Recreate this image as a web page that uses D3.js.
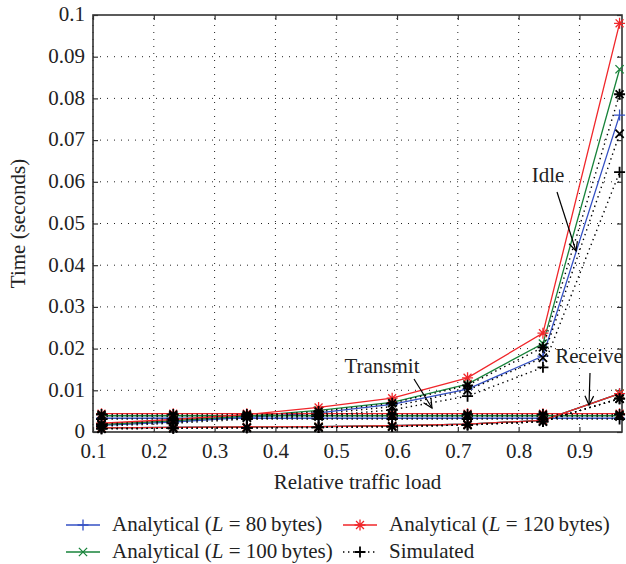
<!DOCTYPE html>
<html>
<head>
<meta charset="utf-8">
<script src="https://cdn.jsdelivr.net/npm/d3@7"></script>
<style>
  body { margin: 0; background: #fff; }
  text { font-family: "Liberation Serif", "DejaVu Serif", serif; fill: #222; }
</style>
</head>
<body>
<div id="chart"></div>
<script>
const w = 626;
const h = 564;

// traffic load points
const loads = [0.114, 0.232, 0.353, 0.471, 0.592, 0.716, 0.840, 0.966];

// analytical idle time per packet length
const idle80 = [0.0016, 0.0024, 0.0035, 0.0046, 0.0066, 0.0103, 0.0182, 0.076];
const idle100 = [0.0018, 0.0027, 0.0038, 0.0052, 0.0071, 0.0115, 0.0212, 0.087];
const idle120 = [0.0021, 0.0030, 0.0042, 0.0059, 0.0081, 0.0130, 0.0237, 0.098];

// simulated idle
const simIdle80 = [0.0014, 0.0021, 0.0031, 0.0038, 0.0053, 0.0086, 0.0155, 0.0623];
const simIdle100 = [0.0016, 0.0024, 0.0034, 0.0043, 0.0061, 0.0100, 0.0178, 0.0715];
const simIdle120 = [0.0019, 0.0027, 0.0038, 0.0049, 0.0069, 0.0112, 0.0203, 0.0810];

// transmit (flat)
const tx80 = [0.0033, 0.0033, 0.0033, 0.0033, 0.0033, 0.0033, 0.0033, 0.0033];
const tx100 = [0.0039, 0.0039, 0.0039, 0.0039, 0.0039, 0.0039, 0.0039, 0.0039];
const tx120 = [0.0044, 0.0044, 0.0044, 0.0044, 0.0044, 0.0044, 0.0044, 0.0044];
const simTx80 = [0.0031, 0.0031, 0.0031, 0.0031, 0.0031, 0.0031, 0.0031, 0.0031];
const simTx100 = [0.0037, 0.0037, 0.0037, 0.0037, 0.0037, 0.0037, 0.0037, 0.0037];
const simTx120 = [0.0042, 0.0042, 0.0042, 0.0042, 0.0042, 0.0042, 0.0042, 0.0042];

// receive
const rx = [0.0010, 0.0011, 0.0012, 0.0013, 0.0015, 0.0019, 0.0028, 0.0092];
const simRx = [0.0008, 0.0009, 0.0010, 0.0011, 0.0013, 0.0017, 0.0025, 0.0080];

const xTicks = [0.1, 0.2, 0.3, 0.4, 0.5, 0.6, 0.7, 0.8, 0.9];
const yTicks = [0, 0.01, 0.02, 0.03, 0.04, 0.05, 0.06, 0.07, 0.08, 0.09, 0.1];

const colors = { 80: "#3450c4", 100: "#17833a", 120: "#f0262a" };
const markers = { 80: "plus", 100: "cross", 120: "star" };

const fs = "21px";
const margin = { left: 93, right: 4, top: 15, bottom: 132 };

const svg = d3.select("#chart").append("svg")
  .attr("width", w).attr("height", h);

const x = d3.scaleLinear().domain([0.1, 0.97]).range([margin.left, w - margin.right]);
const y = d3.scaleLinear().domain([0, 0.1]).range([h - margin.bottom, margin.top]);

const x0 = x.range()[0], x1 = x.range()[1];
const y0 = y.range()[0], y1 = y.range()[1];

// grid
const grid = svg.append("g");
grid.selectAll("line.gx").data(xTicks).enter().append("line")
  .attr("x1", (d) => x(d)).attr("x2", (d) => x(d))
  .attr("y1", y0).attr("y2", y1)
  .attr("stroke", "#222").attr("stroke-width", 1).attr("stroke-dasharray", "1,6");
grid.selectAll("line.gy").data(yTicks.slice(1, -1)).enter().append("line")
  .attr("x1", x0).attr("x2", x1)
  .attr("y1", (d) => y(d)).attr("y2", (d) => y(d))
  .attr("stroke", "#222").attr("stroke-width", 1).attr("stroke-dasharray", "1,6");

// axes with inward ticks
const axisStyle = (g) => {
  g.select(".domain").remove();
  g.selectAll(".tick line").attr("stroke", "#333").attr("stroke-width", 1.2);
  g.selectAll(".tick text").style("font-size", fs).attr("fill", "#222");
};

svg.append("g").attr("transform", `translate(0,${y0})`)
  .call(d3.axisBottom(x).tickValues(xTicks).tickFormat(d3.format("")).tickSizeInner(-5).tickPadding(11))
  .call(axisStyle);
svg.append("g").attr("transform", `translate(0,${y1})`)
  .call(d3.axisTop(x).tickValues(xTicks).tickFormat("").tickSizeInner(-5))
  .call(axisStyle);
svg.append("g").attr("transform", `translate(${x0},0)`)
  .call(d3.axisLeft(y).tickValues(yTicks).tickFormat(d3.format("")).tickSizeInner(-5).tickPadding(8))
  .call(axisStyle)
  .call((g) => g.selectAll(".tick text").attr("dy", "0.28em"));
svg.append("g").attr("transform", `translate(${x1},0)`)
  .call(d3.axisRight(y).tickValues(yTicks).tickFormat("").tickSizeInner(-5))
  .call(axisStyle);

svg.append("rect")
  .attr("x", x0).attr("y", y1).attr("width", x1 - x0).attr("height", y0 - y1)
  .attr("fill", "none").attr("stroke", "#333").attr("stroke-width", 1.6);

const symbolPath = (kind, s) => {
  if (kind === "plus") return `M${-s},0H${s}M0,${-s}V${s}`;
  if (kind === "cross") { const a = s * 0.75; return `M${-a},${-a}L${a},${a}M${-a},${a}L${a},${-a}`; }
  const a = s * 0.72;
  return `M${-s},0H${s}M0,${-s}V${s}M${-a},${-a}L${a},${a}M${-a},${a}L${a},${-a}`;
};

const line = d3.line().x((d) => x(d[0])).y((d) => y(d[1]));
const plotArea = svg.append("g");

const drawSeries = (vals, color, kind, dotted, mSize) => {
  const pts = loads.map((l, i) => [l, vals[i]]);
  plotArea.append("path").datum(pts)
    .attr("d", line).attr("fill", "none")
    .attr("stroke", color)
    .attr("stroke-width", dotted ? 1.4 : 1.3)
    .attr("stroke-dasharray", dotted ? "1.4,3.6" : null);
  plotArea.append("g").selectAll("path").data(pts).enter().append("path")
    .attr("transform", (d) => `translate(${x(d[0])},${y(d[1])})`)
    .attr("d", symbolPath(kind, mSize))
    .attr("stroke", color).attr("stroke-width", dotted ? 1.8 : 1.3).attr("fill", "none");
};

const analytical = [
  [80, idle80, tx80], [100, idle100, tx100], [120, idle120, tx120]
];
analytical.forEach(([L, idle, tx]) => {
  drawSeries(tx, colors[L], markers[L], false, 5.5);
  drawSeries(rx, colors[L], markers[L], false, 5.5);
  drawSeries(idle, colors[L], markers[L], false, 5.5);
});

const simulated = [
  [80, simIdle80, simTx80], [100, simIdle100, simTx100], [120, simIdle120, simTx120]
];
simulated.forEach(([L, idle, tx]) => {
  drawSeries(tx, "#000", markers[L], true, 5.5);
  drawSeries(simRx, "#000", markers[L], true, 5.5);
  drawSeries(idle, "#000", markers[L], true, 5.5);
});

// annotations
const notes = [
  { label: "Idle", tx: 548, ty: 182, from: [557, 192], to: [576, 251] },
  { label: "Transmit", tx: 382, ty: 373, from: [414, 379], to: [432, 408] },
  { label: "Receive", tx: 589, ty: 363, from: [590, 373], to: [589, 405] }
];
const ann = svg.append("g");
notes.forEach((n) => {
  ann.append("text").attr("x", n.tx).attr("y", n.ty).attr("text-anchor", "middle")
    .style("font-size", fs).text(n.label);
  ann.append("line")
    .attr("x1", n.from[0]).attr("y1", n.from[1]).attr("x2", n.to[0]).attr("y2", n.to[1])
    .attr("stroke", "#000").attr("stroke-width", 1.2);
  const ang = Math.atan2(n.to[1] - n.from[1], n.to[0] - n.from[0]);
  const hl = 10, spread = 0.45;
  const p1 = [n.to[0] - hl * Math.cos(ang - spread), n.to[1] - hl * Math.sin(ang - spread)];
  const p2 = [n.to[0] - hl * Math.cos(ang + spread), n.to[1] - hl * Math.sin(ang + spread)];
  ann.append("path")
    .attr("d", `M${p1[0]},${p1[1]}L${n.to[0]},${n.to[1]}L${p2[0]},${p2[1]}`)
    .attr("fill", "none").attr("stroke", "#000").attr("stroke-width", 1.2);
});

// axis titles
svg.append("text").attr("x", (x0 + x1) / 2).attr("y", 489).attr("text-anchor", "middle")
  .style("font-size", fs).text("Relative traffic load");
svg.append("text").attr("transform", `translate(25,${(y0 + y1) / 2}) rotate(-90)`)
  .attr("text-anchor", "middle").style("font-size", fs).text("Time (seconds)");

// legend
const legendItems = [
  { L: "80", color: colors[80], kind: "plus", dotted: false, lx: 66, ly: 525 },
  { L: "100", color: colors[100], kind: "cross", dotted: false, lx: 66, ly: 552 },
  { L: "120", color: colors[120], kind: "star", dotted: false, lx: 343, ly: 525 },
  { L: null, color: "#000", kind: "plus", dotted: true, lx: 343, ly: 552 }
];
const legend = svg.append("g");
legendItems.forEach((d) => {
  legend.append("line").attr("x1", d.lx).attr("x2", d.lx + 34).attr("y1", d.ly).attr("y2", d.ly)
    .attr("stroke", d.color).attr("stroke-width", d.dotted ? 1.4 : 1.3)
    .attr("stroke-dasharray", d.dotted ? "1.4,3.6" : null);
  legend.append("path").attr("transform", `translate(${d.lx + 17},${d.ly})`)
    .attr("d", symbolPath(d.kind, 5.5)).attr("stroke", d.color)
    .attr("stroke-width", d.dotted ? 1.8 : 1.3).attr("fill", "none");
  const t = legend.append("text").attr("x", d.lx + 46).attr("y", d.ly + 6).style("font-size", fs);
  if (d.L) {
    t.append("tspan").text("Analytical (");
    t.append("tspan").style("font-style", "italic").text("L");
    t.append("tspan").text(` = ${d.L}\u2009bytes)`);
  } else {
    t.text("Simulated");
  }
});
</script>
</body>
</html>
